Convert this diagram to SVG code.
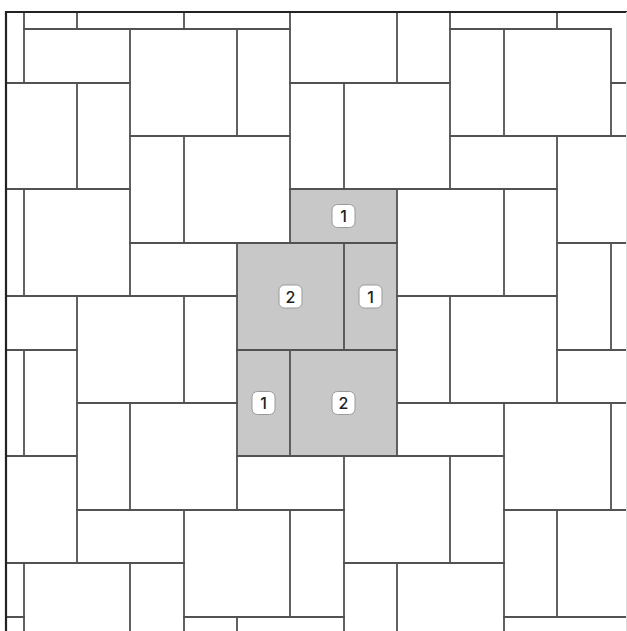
<svg xmlns="http://www.w3.org/2000/svg" width="627" height="631" viewBox="0 0 627 631">
<style>
.shade{fill:#c8c8c8;stroke:none}
.joint{fill:none;stroke:#525252;stroke-width:1.8;stroke-linecap:square}
.border{fill:none;stroke:#222;stroke-width:2.2}
.tag{fill:#fff;stroke:#9a9a9a;stroke-width:1}
.num{font-family:Inter,"Noto Sans",sans-serif;font-size:16px;font-weight:500;fill:#222;text-anchor:middle;dominant-baseline:central}
</style>
<rect x="0" y="0" width="627" height="631" fill="#fff"/>
<g id="shaded-tiles">
<rect id="tile-top-1" class="shade" x="290" y="189" width="107" height="54"/>
<rect id="tile-mid-2" class="shade" x="237" y="243" width="107" height="107"/>
<rect id="tile-mid-1" class="shade" x="344" y="243" width="53" height="107"/>
<rect id="tile-low-1" class="shade" x="237" y="350" width="53" height="106"/>
<rect id="tile-low-2" class="shade" x="290" y="350" width="107" height="106"/>
</g>
<g id="joints">
<path class="joint" d="M24 12V83 M24 189V296 M24 350V456 M24 563V631
M77 12V29 M77 83V189 M77 296V563
M130 29V296 M130 403V510 M130 563V631
M184 12V29 M184 136V243 M184 296V403 M184 510V631
M237 29V136 M237 243V510 M237 617V631
M290 12V243 M290 350V456 M290 510V617
M344 83V189 M344 243V350 M344 456V631
M397 12V83 M397 189V456 M397 563V631
M450 12V189 M450 296V403 M450 456V563
M504 29V136 M504 189V296 M504 403V631
M557 12V29 M557 136V403 M557 510V617
M611 29V136 M611 243V350 M611 403V510"/>
<path class="joint" d="M24 29H290 M450 29H611
M6 83H130 M290 83H450 M611 83H627
M130 136H290 M450 136H627
M6 189H130 M290 189H557
M130 243H397 M557 243H627
M6 296H237 M397 296H557
M6 350H77 M237 350H397 M557 350H627
M77 403H237 M397 403H627
M6 456H77 M237 456H504
M77 510H344 M504 510H627
M6 563H184 M344 563H504
M6 617H24 M184 617H344 M504 617H627"/>
</g>
<g id="frame">
<path class="border" d="M6 631V12H627"/>
<path d="M626.5 12V631" stroke="#dcdcdc" stroke-width="1" fill="none"/>
</g>
<g id="labels">
<g id="label-top-1"><rect class="tag" x="332" y="204.5" width="23" height="23" rx="5.5"/><text class="num" x="343.5" y="216">1</text></g>
<g id="label-mid-2"><rect class="tag" x="279" y="285" width="23" height="23" rx="5.5"/><text class="num" x="290.5" y="296.5">2</text></g>
<g id="label-mid-1"><rect class="tag" x="359" y="285" width="23" height="23" rx="5.5"/><text class="num" x="370.5" y="296.5">1</text></g>
<g id="label-low-1"><rect class="tag" x="252" y="391.5" width="23" height="23" rx="5.5"/><text class="num" x="263.5" y="403">1</text></g>
<g id="label-low-2"><rect class="tag" x="332" y="391.5" width="23" height="23" rx="5.5"/><text class="num" x="343.5" y="403">2</text></g>
</g>
</svg>
